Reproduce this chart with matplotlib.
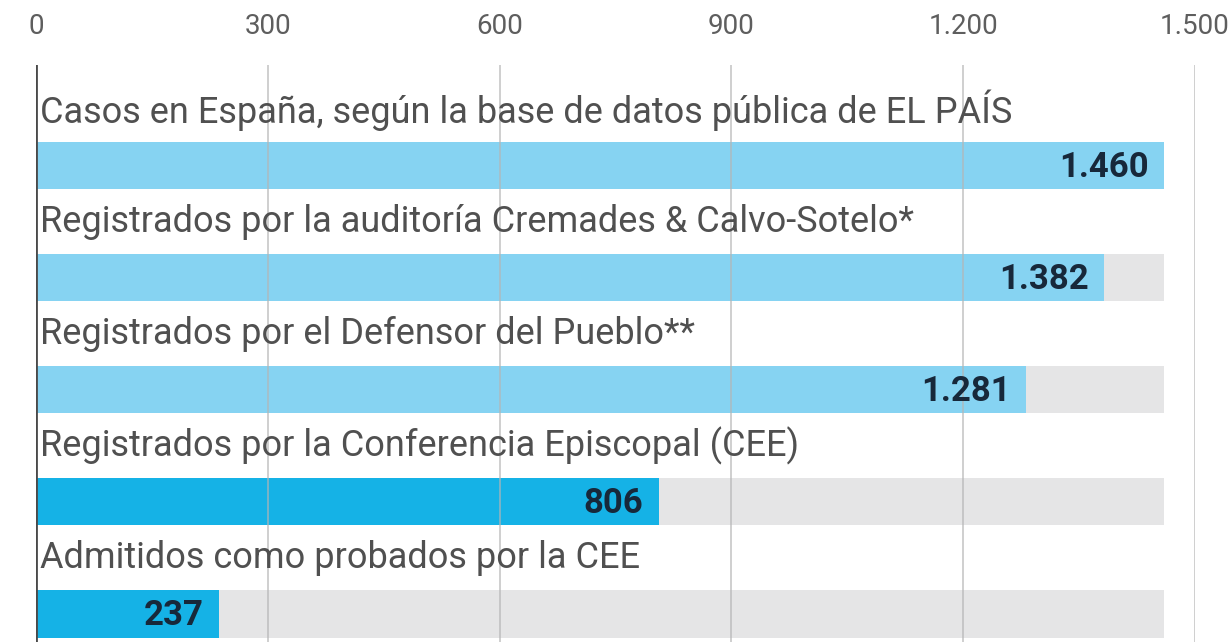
import matplotlib.pyplot as plt
from matplotlib import font_manager

labels = [
    'Casos en España, según la base de datos pública de EL PAÍS',
    'Registrados por la auditoría Cremades & Calvo-Sotelo*',
    'Registrados por el Defensor del Pueblo**',
    'Registrados por la Conferencia Episcopal (CEE)',
    'Admitidos como probados por la CEE',
]
values = [1460, 1382, 1281, 806, 237]
ticks = [0, 300, 600, 900, 1200, 1500]

bar_colors = ['#86d3f2', '#86d3f2', '#86d3f2', '#15b2e6', '#15b2e6']

installed = {f.name for f in font_manager.fontManager.ttflist}
fam = [f for f in ['Liberation Sans Narrow', 'Roboto', 'DejaVu Sans'] if f in installed]
plt.rcParams['font.family'] = fam


def fmt(v):
    return f'{v:,}'.replace(',', '.')


fig = plt.figure(figsize=(12.32, 6.42), dpi=100)
ax = fig.add_axes([36 / 1232, 0, 1159 / 1232, (642 - 65) / 642])

ypos = list(range(len(values)))
top = max(values)

# grey background track, then the coloured bar
ax.barh(ypos, [top] * len(values), height=0.42, color='#e5e5e6', zorder=1)
ax.barh(ypos, values, height=0.42, color=bar_colors, zorder=2)

for y, v, lab in zip(ypos, values, labels):
    ax.annotate(fmt(v), (v, y), xytext=(-11, -1), textcoords='offset points',
                ha='right', va='center', fontsize=25, fontweight='bold',
                color='#17283a', zorder=4)
    ax.annotate(lab, (0, y - 0.5), xytext=(3, 0), textcoords='offset points',
                ha='left', va='center', fontsize=26, color='#505050', zorder=4)

for t in ticks[1:]:
    ax.axvline(t, color='#b5b5b5', lw=1.2, alpha=0.75, zorder=3)
ax.axvline(0, color='#4a4a4a', lw=2, zorder=5)

ax.set_xlim(0, 1500)
ax.set_ylim(4.25, -0.9)
ax.xaxis.tick_top()
ax.set_xticks(ticks)
ax.set_xticklabels([fmt(t) for t in ticks])
ax.tick_params(axis='x', length=0, pad=18, labelsize=20, labelcolor='#5e5e5e')
ax.set_yticks([])
for s in ax.spines.values():
    s.set_visible(False)

fig.savefig('out.png', dpi=100)
